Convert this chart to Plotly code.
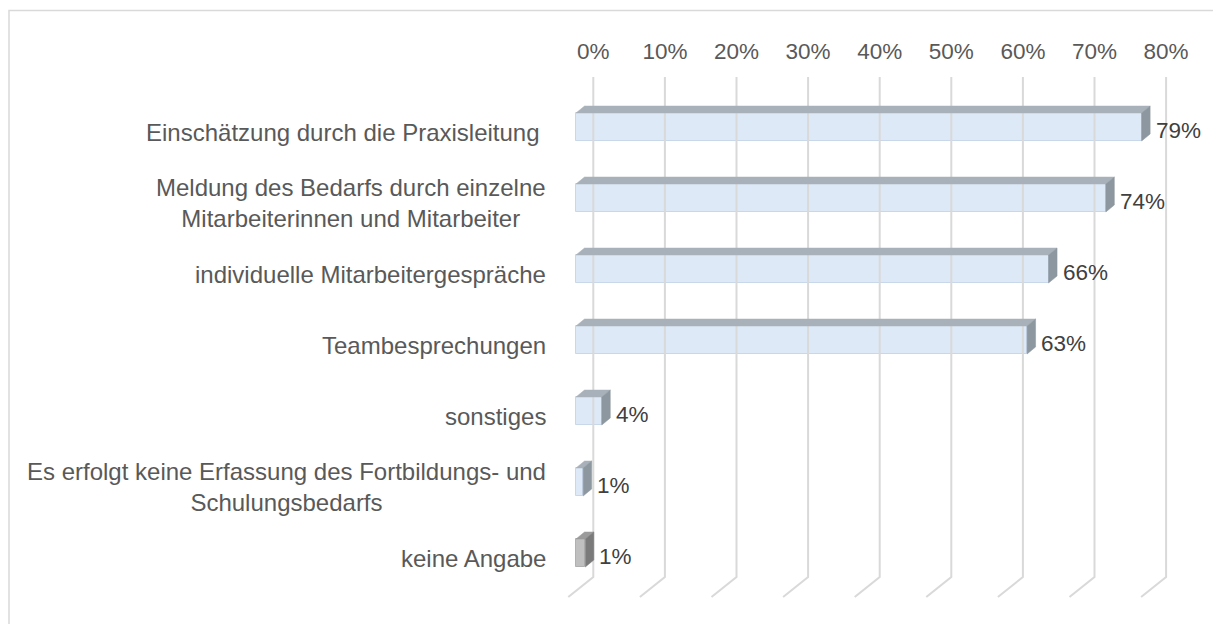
import plotly.graph_objects as go

# ---------------- data ----------------
categories = [
    "Einschätzung durch die Praxisleitung ",
    "Meldung des Bedarfs durch einzelne<br>Mitarbeiterinnen und Mitarbeiter",
    "individuelle Mitarbeitergespräche",
    "Teambesprechungen",
    "sonstiges",
    "Es erfolgt keine Erfassung des Fortbildungs- und<br>Schulungsbedarfs",
    "keine Angabe",
]
values = [79, 74, 66, 63, 3.6, 1.0, 1.3]
value_labels = ["79%", "74%", "66%", "63%", "4%", "1%", "1%"]
tick_values = [0, 10, 20, 30, 40, 50, 60, 70, 80]
tick_labels = ["0%", "10%", "20%", "30%", "40%", "50%", "60%", "70%", "80%"]

# ---------------- styling / geometry ----------------
# the page body adds an 8px margin, so the figure is 8px smaller and all
# pixel anchors below are page positions minus 8
PAGE_OFF = 8
W, H = 1221 - PAGE_OFF, 624 - PAGE_OFF
PX_PER_UNIT = 7.16                 # px per percent
X0_PX = 576 - PAGE_OFF             # 0% on front plane
ROW_PX = 71                        # px per category
ROW0_PX = 127 - PAGE_OFF           # first category centre
TOP_PX = 77 - PAGE_OFF             # top of grid
BACK_SHIFT = 17.3 / PX_PER_UNIT    # back wall offset in % units
BAR_W = 28 / ROW_PX
DX = 8.5 / PX_PER_UNIT
DY = 7 / ROW_PX
FLOOR_DX = 25 / PX_PER_UNIT
GRID_BOTTOM = (577 - PAGE_OFF - ROW0_PX) / ROW_PX
FLOOR_FRONT = (597 - PAGE_OFF - ROW0_PX) / ROW_PX
CAT_RIGHT_PX = 548 - PAGE_OFF

FONT = "Arial, Liberation Sans, sans-serif"
GRID_COLOR = "#D9D9D9"
blue = dict(front="#DDE9F7", top="#A8B1B9", side="#8D979F", line="#C8D7EA")
grey = dict(front="#BFBFBF", top="#9B9B9B", side="#7A7A7A", line="#B0B0B0")
bar_styles = [blue, blue, blue, blue, blue, blue, grey]

xr = [-X0_PX / PX_PER_UNIT, (W - X0_PX) / PX_PER_UNIT]
yr = [(H - ROW0_PX) / ROW_PX, (TOP_PX - ROW0_PX) / ROW_PX]

fig = go.Figure()

# gridlines: back wall verticals + floor diagonals
gx, gy = [], []
for v in tick_values:
    xb = v + BACK_SHIFT
    gx += [xb, xb, xb - FLOOR_DX, None]
    gy += [yr[1], GRID_BOTTOM, FLOOR_FRONT, None]
fig.add_trace(go.Scatter(x=gx, y=gy, mode="lines",
                         line=dict(color=GRID_COLOR, width=2),
                         hoverinfo="skip", showlegend=False, cliponaxis=False))

# bars (front faces)
ys = list(range(len(categories)))
fig.add_trace(go.Bar(
    x=values, y=ys, orientation="h", base=0, width=BAR_W,
    marker=dict(color=[s["front"] for s in bar_styles],
                line=dict(color=[s["line"] for s in bar_styles], width=1)),
    hoverinfo="skip", showlegend=False))

# 3D top and side faces
for i, (v, s) in enumerate(zip(values, bar_styles)):
    yt = i - BAR_W / 2
    yb = i + BAR_W / 2
    fig.add_trace(go.Scatter(
        x=[0, v, v + DX, DX, 0], y=[yt, yt, yt - DY, yt - DY, yt],
        mode="lines", fill="toself", fillcolor=s["top"],
        line=dict(color=s["top"], width=0.5),
        hoverinfo="skip", showlegend=False))
    fig.add_trace(go.Scatter(
        x=[v, v + DX, v + DX, v, v], y=[yt, yt - DY, yb - DY, yb, yt],
        mode="lines", fill="toself", fillcolor=s["side"],
        line=dict(color=s["side"], width=0.5),
        hoverinfo="skip", showlegend=False))

annotations = []
for i, (c, lab, v) in enumerate(zip(categories, value_labels, values)):
    annotations.append(dict(
        x=CAT_RIGHT_PX / W, xref="paper", y=i, yref="y", text=c, showarrow=False,
        xanchor="right", yanchor="middle", align="center", yshift=-5,
        font=dict(family=FONT, size=24, color="#595959")))
    annotations.append(dict(
        x=v, xref="x", y=i, yref="y", text=lab, showarrow=False,
        xanchor="left", yanchor="middle", xshift=12, yshift=-3,
        font=dict(family=FONT, size=22.5, color="#404040")))

fig.update_layout(
    width=W, height=H,
    margin=dict(l=0, r=0, t=0, b=0, pad=0),
    paper_bgcolor="white", plot_bgcolor="rgba(0,0,0,0)",
    bargap=0,
    xaxis=dict(domain=[0, 1], range=xr, side="top",
               tickvals=[v + BACK_SHIFT for v in tick_values], ticktext=tick_labels,
               ticks="outside", ticklen=8, tickcolor="rgba(0,0,0,0)",
               showgrid=False, zeroline=False, showline=False,
               tickfont=dict(family=FONT, size=22.5, color="#595959"),
               fixedrange=True),
    yaxis=dict(domain=[0, 1 - TOP_PX / H], range=yr, showticklabels=False,
               showgrid=False, zeroline=False, showline=False, fixedrange=True),
    annotations=annotations,
    shapes=[dict(type="rect", xref="paper", yref="paper",
                 x0=1 / W, x1=1.02, y0=-0.05, y1=1 - 2.5 / H,
                 line=dict(color=GRID_COLOR, width=1.5))],
)

fig.write_html("out.html")
